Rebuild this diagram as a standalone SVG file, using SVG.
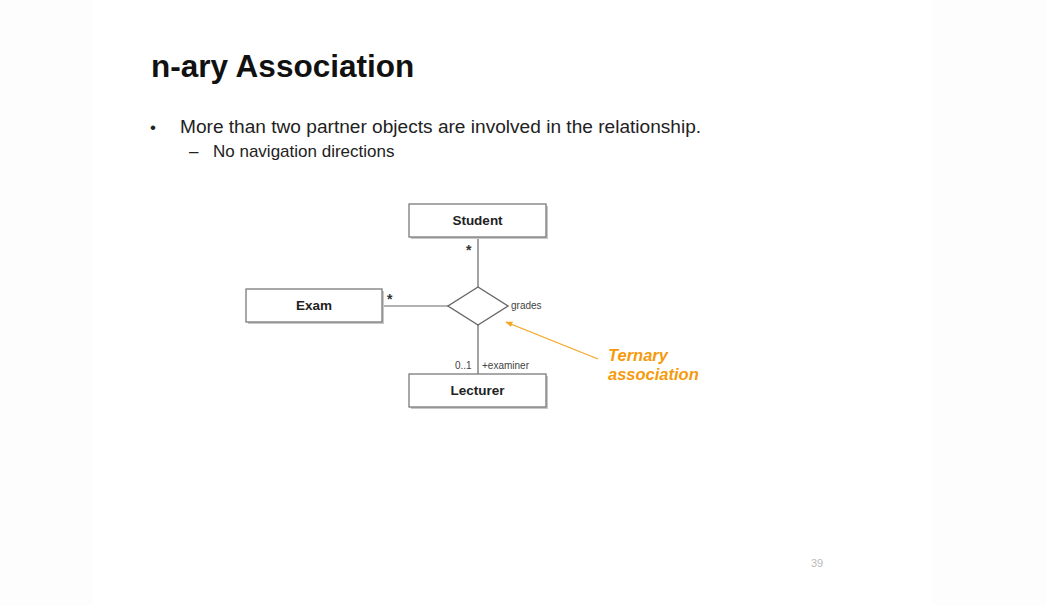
<svg xmlns="http://www.w3.org/2000/svg" width="1046" height="605" viewBox="0 0 1046 605">
<defs>
<style>
.box{fill:#fff;stroke:#7a7a7a;stroke-width:1.3}
.shadow{fill:#c8c8c8}
.cls{font-family:"Liberation Sans",Arial,sans-serif;font-weight:bold;font-size:13.5px;fill:#222;text-anchor:middle}
.lbl{font-family:"Liberation Sans",Arial,sans-serif;font-size:10px;fill:#444}
.star{font-family:"Liberation Sans",Arial,sans-serif;font-size:14px;font-weight:bold;fill:#333}
.conn{stroke:#666;stroke-width:1.2;fill:none}
.note{font-family:"Liberation Sans",Arial,sans-serif;font-weight:bold;font-style:italic;font-size:16.5px;fill:#F59A0C}
</style>
<marker id="ah" viewBox="0 0 10 10" refX="9" refY="5" markerWidth="6" markerHeight="6" orient="auto">
<path d="M0,1 L10,5 L0,9 z" fill="#F5A623"/>
</marker>
</defs>
<rect width="1046" height="605" fill="#ffffff"/>
<rect x="0" y="0" width="93" height="605" fill="#fdfdfd"/>
<rect x="932" y="0" width="114" height="605" fill="#fdfdfd"/>

<text x="151" y="77" font-family="'Liberation Sans',Arial,sans-serif" font-weight="bold" font-size="31.5" fill="#111">n-ary Association</text>
<text x="150" y="133" font-family="'Liberation Sans',Arial,sans-serif" font-size="17" fill="#222">•</text>
<text x="180" y="133" font-family="'Liberation Sans',Arial,sans-serif" font-size="19.1" fill="#222">More than two partner objects are involved in the relationship.</text>
<text x="189" y="157" font-family="'Liberation Sans',Arial,sans-serif" font-size="17" fill="#222">–</text>
<text x="213" y="157" font-family="'Liberation Sans',Arial,sans-serif" font-size="17" fill="#222">No navigation directions</text>

<g id="connectors">
<line class="conn" x1="478" y1="237" x2="478" y2="287"/>
<line class="conn" x1="382" y1="306" x2="448" y2="306"/>
<line class="conn" x1="478" y1="325" x2="478" y2="374"/>
<line x1="598" y1="359" x2="506" y2="322" stroke="#F5A623" stroke-width="1.2" marker-end="url(#ah)"/>
</g>

<g id="assoc">
<polygon points="478,287 508,306 478,325 448,306" fill="#fff" stroke="#666" stroke-width="1.4"/>
<text class="lbl" x="511" y="309">grades</text>
</g>

<g id="student">
<rect class="shadow" x="411" y="206" width="137" height="33"/>
<rect class="box" x="409" y="204" width="137" height="33"/>
<text class="cls" x="477.5" y="224.5">Student</text>
<text class="star" x="466" y="255">*</text>
</g>

<g id="exam">
<rect class="shadow" x="248" y="291" width="136" height="33"/>
<rect class="box" x="246" y="289" width="136" height="33"/>
<text class="cls" x="314" y="309.5">Exam</text>
<text class="star" x="387" y="304">*</text>
</g>

<g id="lecturer">
<rect class="shadow" x="411" y="376" width="137" height="33"/>
<rect class="box" x="409" y="374" width="137" height="33"/>
<text class="cls" x="477.5" y="394.5">Lecturer</text>
<text class="lbl" x="455" y="369">0..1</text>
<text class="lbl" x="482" y="369">+examiner</text>
</g>

<g id="note">
<text class="note" x="608" y="361">Ternary</text>
<text class="note" x="608" y="380">association</text>
</g>

<text x="817" y="567" font-family="'Liberation Sans',Arial,sans-serif" font-size="11" fill="#bbb" text-anchor="middle">39</text>
</svg>
